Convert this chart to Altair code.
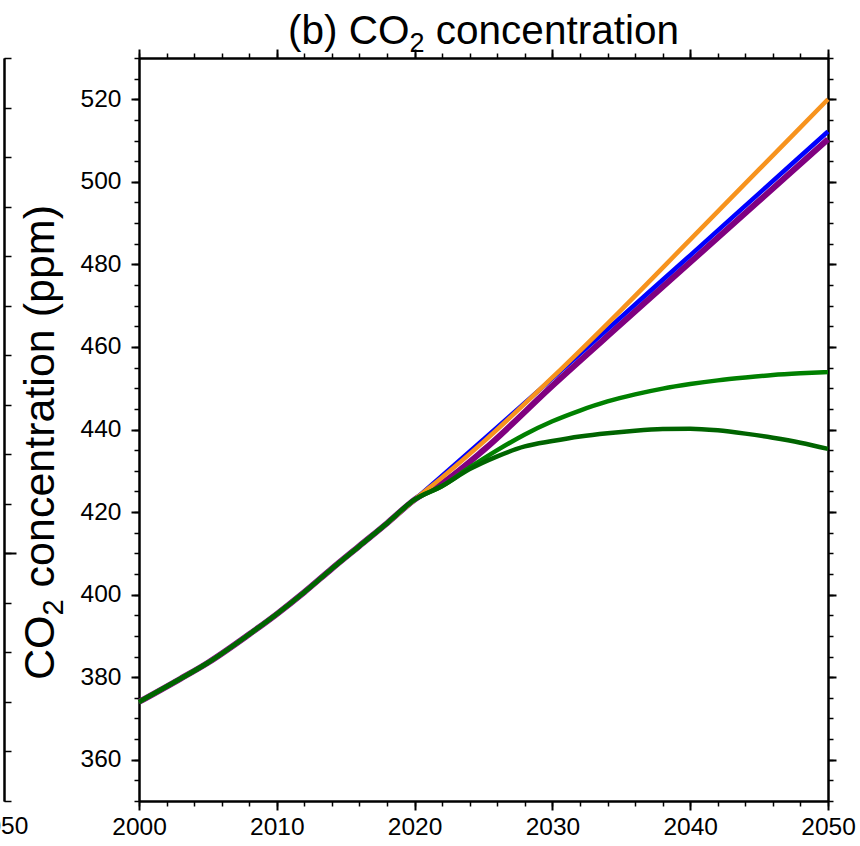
import altair as alt
import pandas as pd

# Observed concentration, shared by every pathway
hist_years = [2000, 2003, 2005, 2008, 2010, 2012, 2014, 2016, 2018, 2020]
hist_ppm = [374.0, 379.6, 383.5, 390.4, 395.3, 400.6, 406.3, 411.8, 417.3, 423.0]

# Pathways that keep rising
rise_years = [2020, 2022, 2025, 2030, 2035, 2040, 2045, 2050]
orange_ppm = [423.0, 428.4, 437.0, 452.6, 469.0, 486.0, 503.0, 520.0]
blue_ppm = [423.0, 428.8, 437.6, 452.4, 467.3, 482.2, 497.2, 512.2]
purple_ppm = [423.0, 427.0, 435.0, 450.6, 465.6, 480.5, 495.4, 510.3]

# Pathways that level off
flat_years = [2020, 2022, 2024, 2026, 2028, 2030, 2032, 2034, 2036, 2038,
              2040, 2042, 2044, 2046, 2048, 2050]
green_ppm = [423.0, 426.3, 430.8, 435.0, 438.8, 442.0, 444.6, 446.8, 448.5,
             449.9, 451.0, 451.9, 452.6, 453.2, 453.6, 453.9]
darkgreen_ppm = [423.0, 426.3, 430.4, 433.5, 435.9, 437.2, 438.3, 439.1, 439.7,
                 440.1, 440.2, 439.8, 439.0, 438.0, 436.8, 435.3]

# (name, years, values, colour, width) in drawing order
pathways = [
    ("purple", rise_years, purple_ppm, "#800080", 6),
    ("blue", rise_years, blue_ppm, "#0000ff", 4.5),
    ("orange", rise_years, orange_ppm, "#f7931e", 4.5),
    ("green", flat_years, green_ppm, "#008000", 4.5),
    ("darkgreen", flat_years, darkgreen_ppm, "#006400", 4.5),
]

FONT = "Liberation Sans"
W, H = 689, 743

xscale = alt.Scale(domain=[2000, 2050], nice=False, zero=False)
yscale = alt.Scale(domain=[350, 530], nice=False, zero=False)

frame = pd.DataFrame({"year": [2000, 2050], "ppm": [350, 530]})


def axis(orient, values, size, width, labels=False, **kw):
    return alt.Axis(
        orient=orient, values=values, tickSize=size, tickWidth=width,
        tickColor="black", domain=True, domainColor="black", domainWidth=2,
        grid=False, labels=labels, title=None,
        labelFont=FONT, labelFontSize=24.5, labelColor="black",
        labelFlush=False, labelOverlap=False, **kw)


def axis_layer(xaxis, yaxis):
    return alt.Chart(frame).mark_point(opacity=0).encode(
        x=alt.X("year:Q", scale=xscale, axis=xaxis),
        y=alt.Y("ppm:Q", scale=yscale, axis=yaxis),
    )


def label(text, x, y, size, angle=0, align="left"):
    """A piece of title text placed in pixels relative to the plot area."""
    return alt.Chart(pd.DataFrame({"t": [text]})).mark_text(
        font=FONT, fontSize=size, color="black", align=align,
        baseline="alphabetic", angle=angle,
    ).encode(text="t:N", x=alt.value(x), y=alt.value(y))


x_major = list(range(2000, 2051, 10))
x_minor = list(range(2000, 2051, 2))
y_major = list(range(360, 521, 20))
y_minor = list(range(350, 531, 5))

layers = [
    axis_layer(
        axis("bottom", x_major, 9, 2, labels=True, format="d", labelPadding=5),
        axis("left", y_major, 8, 2, labels=True, labelPadding=10),
    ),
    axis_layer(axis("bottom", x_minor, 5, 1.5), axis("left", y_minor, 5, 1.5)),
    axis_layer(axis("top", x_major, 9, 2), axis("right", y_major, 8, 2)),
    axis_layer(axis("top", x_minor, 5, 1.5), axis("right", y_minor, 5, 1.5)),
    # right-hand frame edge of the neighbouring panel
    axis_layer(None, axis("right", [410], 12, 2, offset=-824)),
    axis_layer(None, axis("right", list(range(350, 531, 12)), 7, 1.5, offset=-824)),
]

for name, yrs, vals, colour, width in pathways:
    df = pd.DataFrame({
        "year": hist_years[:-1] + yrs,
        "ppm": hist_ppm[:-1] + vals,
    })
    layers.append(
        alt.Chart(df).mark_line(color=colour, strokeWidth=width,
                                interpolate="monotone").encode(
            x=alt.X("year:Q", scale=xscale, axis=None),
            y=alt.Y("ppm:Q", scale=yscale, axis=None),
        )
    )

# year label of the neighbouring panel's last tick
layers.append(
    alt.Chart(pd.DataFrame({"t": ["2050"]})).mark_text(
        font=FONT, fontSize=24.5, color="black", align="center", baseline="top"
    ).encode(text="t:N", x=alt.value(-138), y=alt.value(H + 14))
)

# Arial/Liberation advance widths (in em) of the title pieces
EM_B_CO = 3.0          # "(b) CO"
EM_CO = 1.5            # "CO"
EM_SUB = 0.556         # "2"
EM_SPACE = 0.278       # " "
EM_CONC = 6.003        # "concentration"

# panel title with a true subscript: "(b) CO" + "2" + " concentration"
T, TS = 40.5, 27
total = EM_B_CO * T + EM_SUB * TS + (EM_SPACE + EM_CONC) * T
tx = W / 2 - total / 2
ty = -14
layers += [
    label("(b) CO", tx, ty, T),
    label("2", tx + EM_B_CO * T, ty + 8, TS),
    label("concentration", tx + EM_B_CO * T + EM_SUB * TS + EM_SPACE * T, ty, T),
]

# y-axis title, rotated, with the same subscript treatment
Y, YS = 43, 29
yx = -85
y0 = 622
layers += [
    label("CO", yx, y0, Y, angle=270),
    label("2", yx + 9, y0 - EM_CO * Y, YS, angle=270),
    label("concentration (ppm)", yx,
          y0 - EM_CO * Y - EM_SUB * YS - EM_SPACE * Y, Y, angle=270),
]

chart = alt.layer(*layers).resolve_axis(
    x="independent", y="independent"
).properties(
    width=W, height=H,
    autosize=alt.AutoSizeParams(type="none"),
    padding={"left": 139, "top": 58, "right": 32, "bottom": 45},
).configure_view(stroke=None).configure(background="white")

chart.save("out.html", embed_options={"renderer": "svg", "actions": False})
